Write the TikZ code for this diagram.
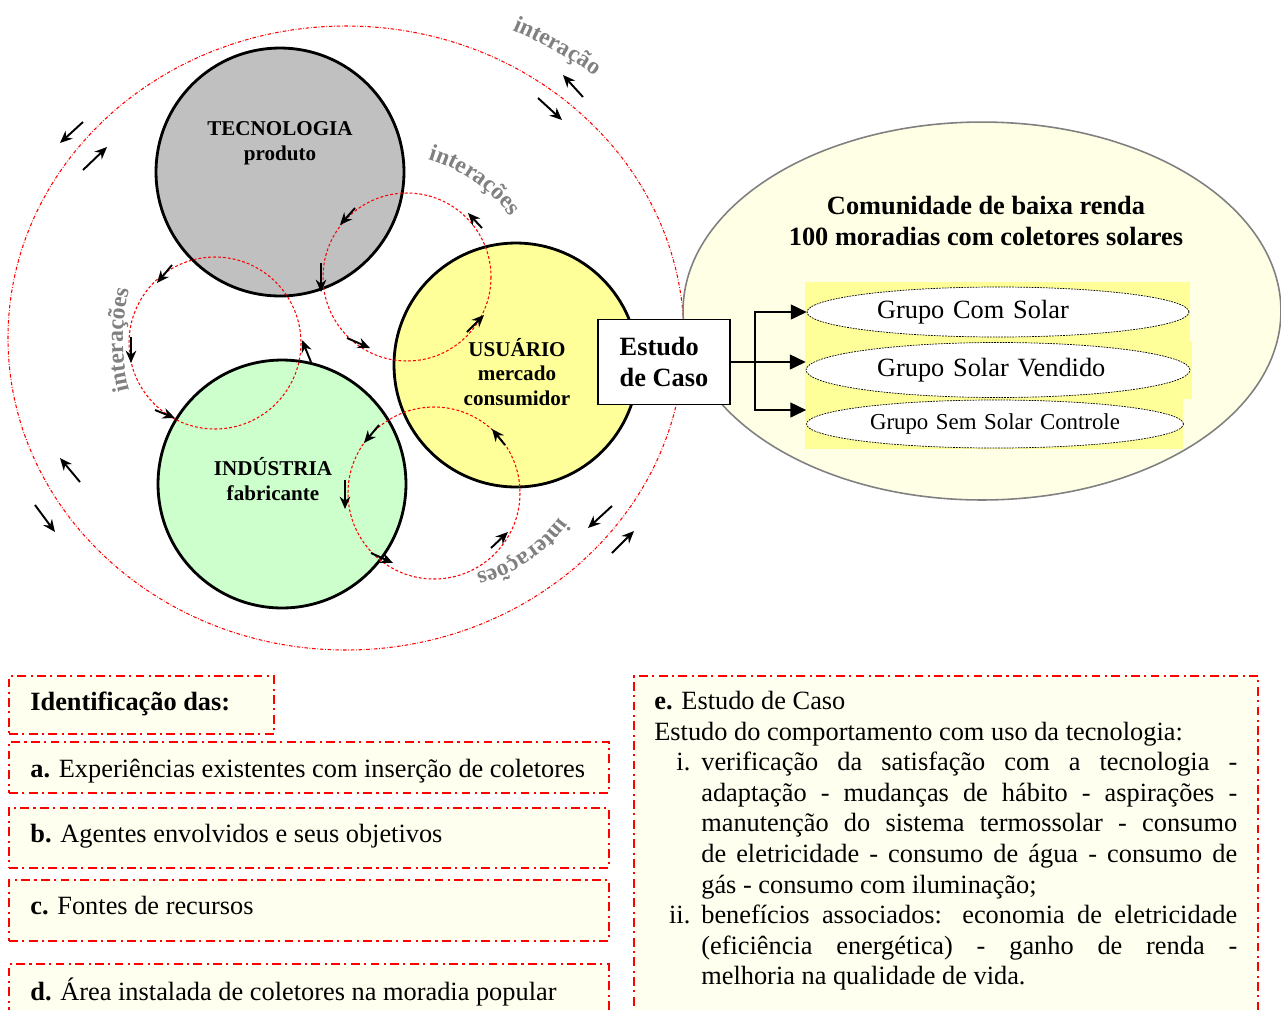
\documentclass[tikz,border=0pt]{standalone}
\usepackage{fontspec}
\setmainfont{Liberation Serif}
\usetikzlibrary{arrows.meta, positioning, shapes.geometric, decorations.text}
\definecolor{tecgray}{RGB}{192,192,192}
\definecolor{usuyellow}{RGB}{255,255,153}
\definecolor{indgreen}{RGB}{204,255,204}
\definecolor{commfill}{RGB}{255,255,230}
\definecolor{notefill}{RGB}{255,255,240}
\definecolor{wordgray}{RGB}{128,128,128}

\begin{document}
\begin{tikzpicture}[x=0.02cm, y=-0.02cm,
    agent/.style={circle, draw, line width=1.6pt, inner sep=0pt},
    agentlabel/.style={font=\fontsize{12}{14}\selectfont\bfseries, align=center},
    ring/.style={red, line width=0.6pt, dash pattern=on 1.6pt off 1.2pt},
    flow/.style={-{Stealth[length=7pt,width=6pt]}, line width=1.1pt},
    interlabel/.style={decorate, decoration={text along path, text align=center,
        text={|\fontsize{13.5}{14}\selectfont\bfseries\color{wordgray}|#1}}},
    grupo/.style={ellipse, draw, fill=white, line width=0.4pt, dash pattern=on 1pt off 0.6pt,
        inner sep=0pt, align=left, font=\fontsize{15}{17}\selectfont},
    branch/.style={-{Triangle[length=9pt,width=8.5pt]}, line width=0.75pt},
    notebox/.style={draw=red, fill=notefill, line width=1.2pt,
        dash pattern=on 5pt off 2.5pt on 1.2pt off 2.5pt, inner sep=0pt, anchor=north west},
    notetext/.style={anchor=west, inner sep=0pt, font=\fontsize{15}{17.4}\selectfont}]

    \useasboundingbox (0,0) rectangle (1281,1009);

    % Outer interaction loop
    \draw[red, line width=0.6pt, dash pattern=on 2pt off 1pt on 0.4pt off 1pt]
        (346,338) ellipse[x radius=338, y radius=312];
    \path[interlabel=interação] (335,447) ++(-72:453) arc[start angle=-72, end angle=-50, radius=453];
    \foreach \xa/\ya/\xb/\yb in {583/97/563/75, 538/98/562/120, 83/122/60/143, 83/170/107/147,
        80/482/60/458, 35/505/55/532, 612/506/588/528, 612/553/634/531} {
        \draw[flow] (\xa,\ya) -- (\xb,\yb);
    }

    % Agents
    \node[agent, fill=tecgray, minimum size=4.96cm] (tec) at (280,172) {};
    \node[agent, fill=indgreen, minimum size=4.96cm] (ind) at (282,484) {};
    \node[agent, fill=usuyellow, minimum size=4.88cm] (usu) at (516,365) {};
    \node[agentlabel] (tectext) at (280,143) {TECNOLOGIA\\produto};
    \node[agentlabel] (usutext) at (517,372) {USUÁRIO\\mercado\\consumidor};
    \node[agentlabel] (indtext) at (273,479) {INDÚSTRIA\\fabricante};

    % Interaction rings
    \draw[ring] (407,277) circle[radius=84];
    \draw[ring] (215,343) circle[radius=86];
    \draw[ring] (434,493) circle[radius=86];
    \path[interlabel=interações] (384,310) ++(-80:157) arc[start angle=-80, end angle=-30, radius=157];
    \path[interlabel=interações] (330,340) ++(155:207) arc[start angle=155, end angle=205, radius=207];
    \path[interlabel=interações] (439,428) ++(30:150) arc[start angle=30, end angle=82, radius=150];
    \foreach \xa/\ya/\xb/\yb in {355/208/340/225, 321/263/321/292, 347/338/370/348, 467/332/484/315,
        482/228/468/213, 172/265/157/283, 131/337/131/363, 155/410/175/418, 311/362/302/340,
        379/425/364/443, 345/480/345/509, 371/553/393/563, 491/548/508/532, 505/445/492/429} {
        \draw[flow] (\xa,\ya) -- (\xb,\yb);
    }

    % Community
    \node[ellipse, draw=wordgray, fill=commfill, line width=0.9pt, minimum width=11.96cm,
        minimum height=7.56cm] (comm) at (982,311) {};
    \node[font=\fontsize{15}{17.6}\selectfont\bfseries, align=center] (commtext) at (986,221)
        {Comunidade de baixa renda\\100 moradias com coletores solares};
    \fill[usuyellow] (805,282) rectangle (1190,341);
    \fill[usuyellow] (805,341) rectangle (1192,399);
    \fill[usuyellow] (805,399) rectangle (1183,449);
    \node[grupo, minimum width=7.64cm, minimum height=1.0cm, text width=4.84cm] (gcom) at (998,312) {Grupo Com Solar};
    \node[grupo, minimum width=7.68cm, minimum height=1.1cm, text width=4.84cm] (gvend) at (998,370) {Grupo Solar Vendido};
    \node[grupo, minimum width=7.54cm, minimum height=0.96cm, text width=5.0cm,
        font=\fontsize{13}{15}\selectfont] (gsem) at (995,424) {Grupo Sem Solar Controle};

    % Case study
    \node[draw, fill=white, line width=1.1pt, minimum width=2.64cm, minimum height=1.7cm, align=left,
        font=\fontsize{15}{17.6}\selectfont\bfseries] (caso) at (664,362) {Estudo\\de Caso};
    \coordinate (split) at (755,362);
    \draw[branch] (split) |- (gcom.west);
    \draw[branch] (caso.east) -- (caso.east -| gvend.west);
    \draw[branch] (split) |- ([yshift=0.28cm]gsem.west);

    % Notes
    \node[notebox, minimum width=5.3cm, minimum height=1.16cm] (idbox) at (8,675) {};
    \node[notetext, font=\fontsize{15}{17.4}\selectfont\bfseries] (idtext) at ([xshift=0.44cm,yshift=0.02cm]idbox.west) {Identificação das:};
    \node[notebox, minimum width=12cm, minimum height=1.02cm] (abox) at (8,741) {};
    \node[notetext] (atext) at ([xshift=0.44cm,yshift=-0.08cm]abox.west) {\textbf{a.} Experiências existentes com inserção de coletores};
    \node[notebox, minimum width=12cm, minimum height=1.2cm] (bbox) at (8,807) {};
    \node[notetext] (btext) at ([xshift=0.44cm,yshift=0.04cm]bbox.west) {\textbf{b.} Agentes envolvidos e seus objetivos};
    \node[notebox, minimum width=12cm, minimum height=1.22cm] (cbox) at (8,879) {};
    \node[notetext] (ctext) at ([xshift=0.44cm,yshift=0.1cm]cbox.west) {\textbf{c.} Fontes de recursos};
    \node[notebox, minimum width=12cm, minimum height=1.12cm] (dbox) at (8,963) {};
    \node[notetext] (dtext) at ([xshift=0.44cm]dbox.west) {\textbf{d.} Área instalada de coletores na moradia popular};
    \node[notebox, minimum width=12.48cm, minimum height=7.2cm] (ebox) at (633,675) {};
    \node[anchor=north west, inner sep=0pt, text width=11.66cm, align=justify,
        font=\fontsize{15}{17.4}\selectfont] (etext) at (654,691) {%
        \textbf{e.} Estudo de Caso\\
        Estudo do comportamento com uso da tecnologia:\par
        \noindent\hangindent=0.94cm\hangafter=1\makebox[0.94cm][r]{i.\hspace{0.22cm}}verificação da satisfação com a tecnologia -\linebreak
        adaptação - mudanças de hábito - aspirações -\linebreak
        manutenção do sistema termossolar - consumo\linebreak
        de eletricidade - consumo de água - consumo de\linebreak
        gás - consumo com iluminação;\par
        \noindent\hangindent=0.94cm\hangafter=1\makebox[0.94cm][r]{ii.\hspace{0.22cm}}benefícios associados: economia de eletricidade\linebreak
        (eficiência energética) - ganho de renda -\linebreak
        melhoria na qualidade de vida.\par};
\end{tikzpicture}
\end{document}
